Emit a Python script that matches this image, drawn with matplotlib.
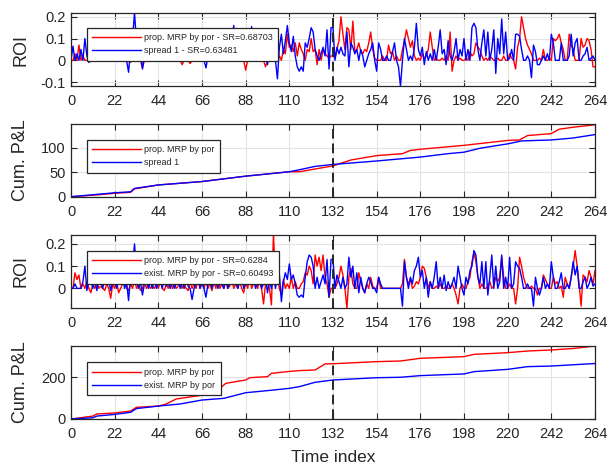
import matplotlib
matplotlib.use("Agg")
import matplotlib.pyplot as plt
import numpy as np

plt.rcParams["font.family"] = ["Liberation Sans", "DejaVu Sans"]

# ---- data ----
time_index = np.arange(265)

# panel 1: ROI, prop. MRP by por vs spread 1
roi1_prop = [
    0, 0, 0.03, 0, 0.07, 0, 0.02, 0, 0, 0, 0.01, 0, 0, 0.02, 0, 0, 0, 0.01, 0, 0, 0, 0,
    0, 0.01, 0, 0, 0, 0.02, 0, 0, -0.01, 0.02, 0, 0, 0.01, 0, -0.035, 0, 0, 0.01, 0, 0, 0, 0,
    0, 0, 0.01, 0, 0, 0, 0, 0.01, 0, 0, 0, 0, -0.02, 0, 0, 0, -0.015, 0, 0, 0.01, 0, 0,
    0, 0, 0.01, 0, 0, 0, 0, 0, 0.02, 0, 0, 0, 0, 0.01, 0, 0, 0, 0, 0, 0.02, 0, 0,
    -0.045, 0, 0, 0.02, 0, 0, 0, 0, 0, 0, -0.03, 0, 0.01, 0, 0, 0, 0, 0.02, 0.0, 0.05, 0.03, 0.12,
    0.06, 0.07, 0.04, 0.08, 0.02, 0.08, 0.05, 0.03, 0.0, 0.05, 0.04, 0.1, 0.04, 0.05, -0.02, 0.05, 0.0, 0.05, 0.03, 0.02, 0.01, 0.02,
    0.02, 0.01, 0.05, 0.09, 0.2, 0.12, 0.05, 0.15, 0.14, 0.05, 0.18, 0.04, 0.05, 0.08, 0.04, 0.03, 0.05, 0.04, 0.08, 0.13, 0.05, 0.01,
    0.0, 0.0, 0.0, 0.02, 0.0, 0.0, 0.07, 0.03, 0.04, 0.0, 0.02, 0.0, 0.0, 0.05, 0.09, 0.14, 0.1, 0.06, 0.09, 0.02, 0.0, 0.01,
    0.0, 0.03, 0.01, 0.02, 0.05, 0.13, 0.06, 0.0, 0.01, 0.0, 0.0, 0.01, 0.0, 0.02, 0.0, 0.13, -0.05, 0.0, 0.02, 0.0, 0.01, 0.0,
    0.0, 0.01, 0.0, 0.04, 0.02, 0.03, 0.08, 0.06, 0.05, 0.02, 0.0, 0.01, 0.0, 0.02, 0.01, 0.0, 0.0, 0.01, 0.0, 0.0, 0.02, 0.0,
    0.0, 0.03, 0.01, 0.0, -0.04, 0.06, 0.1, 0.2, 0.15, 0.1, 0.07, 0.05, 0.03, 0.0, 0.0, 0.0, 0.01, 0.0, 0.05, 0.0, 0.0, 0.01,
    0.0, 0.1, 0.09, 0.1, 0.12, 0.08, 0.05, 0.0, 0.0, 0.12, 0.07, 0.05, 0.0, 0.0, 0.0, 0.1, 0.06, 0.07, 0.1, 0.09, 0.05, -0.03, -0.03,
]
roi1_spread = [
    0, 0.065, 0, 0.03, 0, 0.05, 0, 0.1, 0.02, -0.01, 0, 0.04, 0, 0.06, 0, 0.02, 0.03, 0, 0.05, 0, 0.01, 0,
    0.04, 0, 0.02, 0.06, 0, 0.03, 0, -0.055, 0.05, 0.1, 0.22, 0.08, 0, 0.03, -0.04, 0.02, 0.05, 0, 0.03, 0, 0.06, 0,
    0.02, 0.04, 0, 0.05, 0.01, 0.03, 0, 0.06, 0, 0.02, 0.04, 0, 0.03, 0, 0.05, 0.01, 0, 0.04, 0, 0.02, 0.05, 0,
    0.03, 0, -0.035, 0.02, 0.05, 0, 0.03, 0.07, 0, 0.04, 0.02, 0, 0.06, 0, 0.03, 0.1, 0.16, 0.05, 0, 0.03, 0.06, 0,
    0.02, 0.08, 0.05, 0.155, 0.04, 0, 0.03, 0.06, 0, 0.02, 0.05, -0.02, 0.04, 0, 0.06, 0, -0.085, 0.06, 0.12, 0.03, 0.09, 0.16,
    0.08, 0.04, 0.11, 0.02, -0.03, -0.05, -0.03, -0.05, 0.08, 0.06, 0.1, 0.15, 0.13, 0.05, 0.02, 0.0, 0.03, 0.06, 0.02, 0.14, -0.04, 0.15,
    0.15, 0.0, 0.06, 0.03, 0.06, 0.03, 0.02, 0.13, -0.03, 0.08, 0.06, 0.03, 0.05, 0.0, 0.05, 0.02, -0.03, 0.0, 0.03, 0.05, 0.08, 0.0,
    -0.05, 0.08, 0.05, 0.0, 0.0, 0.02, 0.0, 0.0, 0.04, 0.08, 0.0, -0.03, -0.12, 0.0, 0.1, 0.05, 0.0, 0.02, 0.0, 0.06, 0.17, 0.05,
    0.02, 0.06, -0.02, 0.04, 0.0, 0.03, 0.0, 0.05, 0.0, 0.06, 0.14, 0.03, 0.05, -0.02, 0.09, 0.02, 0.0, 0.04, 0.1, 0.0, 0.05, 0.02,
    0.1, 0.0, 0.05, 0.0, 0.15, 0.17, 0.15, 0.05, 0.0, 0.08, 0.14, 0.02, 0.13, 0.0, 0.05, 0.14, -0.06, 0.1, 0.03, 0.19, 0.03, 0.13,
    0.0, 0.01, 0.05, 0.0, 0.12, 0.12, 0.11, 0.05, 0.0, 0.0, 0.02, 0.0, -0.08, 0.07, 0.04, -0.02, -0.02, 0.0, 0.02, 0.0, 0.03, 0.0,
    0.12, 0.08, 0.0, 0.0, 0.0, 0.08, 0.0, 0.0, 0.0, 0.02, 0.12, 0.02, 0.08, 0.1, 0.0, 0.0, 0.02, 0.03, 0.06, 0.0, 0.01, 0.02, 0.0,
]

# panel 2: cumulative P&L knots (index, value)
pnl1_prop_idx = [0, 11, 22, 30, 32, 44, 66, 88, 110, 115, 132, 141, 154, 167, 171, 176, 198, 220, 226, 230, 242, 246, 253, 264]
pnl1_prop_val = [0, 3, 7, 9, 16, 24, 31, 42, 51, 51, 63, 75, 84, 88, 94.5, 97, 105, 115, 116, 125, 129, 138, 142, 147]
pnl1_spread_idx = [0, 11, 22, 30, 32, 44, 66, 88, 110, 115, 123, 132, 154, 176, 190, 198, 206, 220, 227, 242, 253, 264]
pnl1_spread_val = [0, 4, 8, 10, 17, 24, 31, 42, 51, 55, 62, 66, 73, 81, 88, 91, 99, 108, 114, 116, 120, 127]

# panel 3: ROI, prop. MRP by por vs exist. MRP by por
roi2_prop = [
    0, 0, 0.07, 0.04, 0.06, 0, 0.02, 0, 0.03, 0, -0.02, 0.02, 0, 0.03, 0, 0.01, 0, -0.01, 0.02, 0, -0.045, 0.02,
    0, 0.03, -0.02, 0, 0.02, 0.05, 0, -0.01, 0.02, 0, 0.04, 0, 0.02, -0.01, 0, 0.03, 0, 0.02, 0, 0.01, 0, 0.02,
    0, 0.03, 0, -0.01, 0.02, 0, 0.04, 0, 0.02, 0, 0.01, 0.03, 0, 0.02, 0, -0.01, 0.03, 0, 0.02, 0.0, 0.04, 0,
    0.02, 0, 0.03, 0, 0.02, -0.01, 0.03, 0, 0.05, 0, 0.02, 0, 0.03, 0, 0.01, 0.04, 0, 0.02, 0, 0.03, 0, -0.02,
    0.03, 0, 0.05, 0, 0.02, 0.04, 0, 0.03, 0.0, -0.07, 0.02, 0.05, 0.0, -0.075, 0.25, 0.03, 0.05, 0.0, -0.03, 0.04, 0.0, 0.02,
    0.0, 0.05, 0.0, 0.03, 0.0, 0.0, 0.02, 0.03, 0.07, 0.06, 0.1, 0.08, 0.02, 0.15, 0.1, 0.14, 0.08, 0.15, 0.05, 0.02, -0.04, 0.0,
    0.0, 0.0, 0.02, 0.05, 0.1, 0.06, 0.0, -0.09, 0.05, 0.09, 0.02, 0.0, 0.0, 0.07, 0.03, 0.0, -0.02, 0.02, 0.0, 0.05, 0.01, 0.0,
    0.0, 0.05, 0.0, 0, 0, 0, 0, 0, 0, 0, 0, 0, 0, 0.02, 0.13, 0.05, 0.02, 0.04, 0.0, 0.01, 0.03, 0.02,
    0.05, 0.1, 0.09, 0.05, 0.0, 0.03, 0.0, 0.0, 0.01, 0.0, 0.02, 0.0, 0.0, 0.01, 0.0, 0.0, 0.02, 0.0, -0.03, -0.07, 0.0, 0.02,
    0.0, 0.0, 0.03, 0.05, 0.12, 0.16, 0.12, 0.05, 0.0, 0.02, 0.0, 0.0, 0.01, 0.03, 0.0, 0.01, 0.05, 0.03, 0.05, 0.14, 0.05, 0.0,
    0.0, 0.02, 0.0, 0.0, -0.07, 0.0, 0.14, 0.1, 0.05, 0.02, 0.0, 0.0, 0.01, 0.0, 0.0, -0.03, 0.0, 0.0, 0.06, 0.04, 0.02, 0.0,
    0.0, 0.05, 0.02, 0.03, 0.0, 0.01, -0.04, 0.05, 0.02, 0.0, 0.05, 0.1, 0.17, 0.1, 0.02, -0.08, 0.06, 0.05, 0.03, 0.08, 0.05, 0.02, 0.08,
]
roi2_exist = [
    0, 0.0, 0.02, 0, 0.0, 0.0, 0.03, 0.1, -0.01, 0.04, 0.06, 0, 0.05, -0.01, 0.04, 0.03, 0, 0.05, 0.02, 0.04, -0.01, 0.03,
    0.05, 0, 0.04, 0.02, 0.06, 0, 0.03, -0.055, 0.05, 0.1, 0.2, 0.08, 0, 0.03, -0.03, 0.02, 0.05, 0, 0.03, 0, 0.05, 0,
    0.02, 0.04, 0, 0.05, 0.01, 0.03, 0, 0.05, 0, 0.02, 0.04, 0, 0.03, 0, 0.05, 0.01, 0, -0.05, 0, 0.02, 0.05, 0,
    0.03, 0, -0.04, 0.02, 0.05, 0, 0.03, 0.06, 0, 0.04, 0.02, 0, 0.06, 0, 0.03, 0.08, 0.05, 0.03, 0, 0.03, 0.06, 0,
    0.02, 0.07, 0.05, 0.04, 0.04, 0, 0.03, 0.06, 0, 0.02, 0.05, -0.02, 0.04, 0, 0.06, 0, 0.05, 0.06, -0.06, 0.03, 0.07, 0.04,
    0.11, 0.04, 0.06, 0.02, -0.03, -0.04, -0.03, -0.04, 0.05, 0.12, 0.15, 0.14, 0.1, 0.0, 0.05, 0.0, 0.03, 0.06, 0.02, 0.13, -0.04, 0.13,
    0.13, 0.0, 0.06, 0.03, 0.0, 0.05, 0.0, 0.02, 0.14, 0.05, 0.1, 0.0, 0.07, -0.02, 0.05, 0.0, -0.02, 0.02, 0.05, 0.03, 0.0, 0.0,
    -0.02, 0.05, 0.02, 0.0, 0, 0, 0, 0, 0, 0, 0, 0, 0, -0.08, 0.12, 0.05, 0.0, 0.05, 0.02, 0.08, 0.1, 0.14,
    0.05, 0.08, 0.0, 0.05, -0.04, 0.03, 0.0, 0.05, 0.12, 0.0, 0.05, 0.0, 0.06, -0.01, 0.03, 0.0, 0.02, 0.05, 0.0, 0.1, 0.05, 0.0,
    -0.03, 0.05, 0.02, 0.08, 0.1, 0.17, 0.15, 0.05, 0.02, 0.12, 0.0, 0.12, -0.03, 0.05, 0.15, 0.0, 0.1, 0.0, 0.03, 0.15, 0.0, 0.05,
    0.0, 0.14, 0.0, 0.02, 0.12, 0.1, 0.09, 0.05, 0.0, 0.0, 0.02, 0.0, 0.0, -0.08, 0.05, 0.0, -0.03, 0.0, 0.05, 0.0, 0.02, 0.0,
    0.12, 0.05, 0.0, 0.0, 0.03, 0.07, 0.0, 0.0, 0.02, 0.0, 0.05, 0.12, 0.06, 0.1, 0.0, 0.0, 0.03, 0.05, 0.0, 0.02, 0.05, 0.01, 0.02,
]

# panel 4: cumulative P&L knots (index, value)
pnl2_prop_idx = [0, 11, 13, 22, 30, 33, 44, 48, 53, 66, 72, 78, 88, 90, 99, 101, 110, 115, 123, 128, 132, 154, 166, 176, 198, 203, 220, 230, 242, 253, 264]
pnl2_prop_val = [0, 14, 24, 29, 38, 56, 62, 72, 96, 114, 123, 171, 187, 198, 203, 219, 228, 232, 235, 264, 265, 275, 278, 291, 299, 310, 318, 326, 331, 338, 350]
pnl2_exist_idx = [0, 11, 13, 22, 30, 33, 44, 55, 66, 77, 88, 99, 110, 115, 123, 132, 154, 166, 176, 198, 203, 220, 230, 242, 264]
pnl2_exist_val = [0, 6, 14, 22, 32, 50, 62, 72, 91, 99, 126, 136, 147, 155, 176, 187, 198, 200, 208, 216, 227, 238, 251, 254, 266]

x_ticks = list(range(0, 265, 22))
split_index = 132

panels = [
    dict(kind="roi", series=[(roi1_prop, "prop. MRP by por - SR=0.68703"),
                             (roi1_spread, "spread 1 - SR=0.63481")],
         ylim=(-0.118, 0.216), yticks=[-0.1, 0, 0.1, 0.2], ylabel="ROI",
         rect=(71, 13.3, 524, 72.7), leg_top=0.802),
    dict(kind="pnl", series=[((pnl1_prop_idx, pnl1_prop_val), "prop. MRP by por"),
                             ((pnl1_spread_idx, pnl1_spread_val), "spread 1")],
         ylim=(0, 148), yticks=[0, 50, 100], ylabel="Cum. P&L",
         rect=(71, 124.3, 524, 72.4), leg_top=0.783),
    dict(kind="roi", series=[(roi2_prop, "prop. MRP by por - SR=0.6284"),
                             (roi2_exist, "exist. MRP by por - SR=0.60493")],
         ylim=(-0.087, 0.24), yticks=[0, 0.1, 0.2], ylabel="ROI",
         rect=(71, 235, 524, 72.7), leg_top=0.78),
    dict(kind="pnl", series=[((pnl2_prop_idx, pnl2_prop_val), "prop. MRP by por"),
                             ((pnl2_exist_idx, pnl2_exist_val), "exist. MRP by por")],
         ylim=(0, 350), yticks=[0, 200], ylabel="Cum. P&L",
         rect=(71, 346, 524, 73), leg_top=0.777),
]

W, H = 615, 470
fig = plt.figure(figsize=(W / 100, H / 100), dpi=100)
dark = "#262626"
colors = ["#ff0000", "#0000ff"]

for i, p in enumerate(panels):
    x0, top, w, h = p["rect"]
    ax = fig.add_axes([x0 / W, 1 - (top + h) / H, w / W, h / H])
    for (data, label), c in zip(p["series"], colors):
        if p["kind"] == "roi":
            ax.plot(time_index, data, color=c, lw=1.0, label=label)
        else:
            ax.plot(data[0], data[1], color=c, lw=1.0, label=label)
    ax.axvline(split_index, color=dark, lw=1.4, ls=(0, (5, 2.5)), zorder=3)
    ax.set_xlim(0, 264)
    ax.set_ylim(*p["ylim"])
    ax.set_xticks(x_ticks)
    ax.set_yticks(p["yticks"])
    ax.set_yticklabels([f"{v:g}" for v in p["yticks"]])
    ax.grid(True, color="#e3e3e3", lw=0.8)
    ax.set_axisbelow(True)
    ax.tick_params(direction="in", top=True, right=True, length=4, width=0.8,
                   labelsize=10.5, colors=dark)
    ax.tick_params(axis="x", pad=6)
    ax.tick_params(axis="y", pad=4)
    for s in ax.spines.values():
        s.set_color(dark)
        s.set_linewidth(0.9)
    ax.set_ylabel(p["ylabel"], fontsize=13, color=dark)
    ax.yaxis.set_label_coords(-0.08, 0.5)
    leg = ax.legend(loc="upper left", bbox_to_anchor=(0.0305, p["leg_top"]),
                    borderaxespad=0, fontsize=6.5, handlelength=5.4,
                    handletextpad=0.35, borderpad=0.6, labelspacing=0.45,
                    fancybox=False, framealpha=1, edgecolor=dark)
    leg.get_frame().set_linewidth(0.9)
    for t in leg.get_texts():
        t.set_color(dark)
    if i == 3:
        ax.set_xlabel("Time index", fontsize=12.5, color=dark, labelpad=6)

fig.savefig("out.png", dpi=100)
